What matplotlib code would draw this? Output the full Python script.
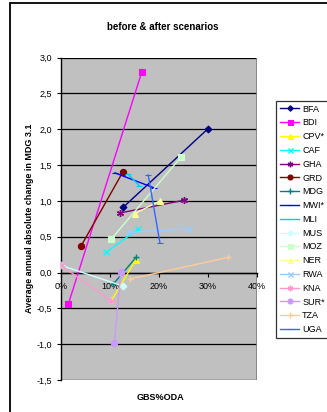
import matplotlib
matplotlib.use("Agg")
import matplotlib.pyplot as plt
from matplotlib.patches import Rectangle
from matplotlib.ticker import FuncFormatter, MultipleLocator

plt.rcParams['font.family'] = ['Liberation Sans', 'DejaVu Sans']

countries = ["BFA", "BDI", "CPV*", "CAF", "GHA", "GRD", "MDG", "MWI*", "MLI",
             "MUS", "MOZ", "NER", "RWA", "KNA", "SUR*", "TZA", "UGA"]
# before / after: x = GBS%ODA, y = change in MDG 3.1
x_before = [0.127, 0.015, 0.103, 0.092, 0.120, 0.041, 0.107, 0.110, 0.137,
            0.000, 0.103, 0.150, 0.139, 0.000, 0.109, 0.141, 0.178]
y_before = [0.91, -0.44, -0.39, 0.28, 0.83, 0.37, -0.16, 1.39, 1.37,
            0.10, 0.47, 0.82, 0.56, 0.10, -0.99, -0.09, 1.36]
x_after = [0.299, 0.165, 0.153, 0.158, 0.252, 0.126, 0.153, 0.190, 0.160,
           0.127, 0.245, 0.202, 0.262, 0.103, 0.122, 0.340, 0.202]
y_after = [2.00, 2.80, 0.18, 0.61, 1.01, 1.40, 0.21, 1.18, 1.21,
           -0.19, 1.61, 1.00, 0.61, -0.40, 0.01, 0.21, 0.41]

colors = ["#000080", "#FF00FF", "#FFFF00", "#00FFFF", "#800080", "#800000",
          "#008080", "#0000FF", "#00CCFF", "#CCFFFF", "#CCFFCC", "#FFFF99",
          "#99CCFF", "#FF99CC", "#CC99FF", "#FFCC99", "#3366FF"]
markers = ["D", "s", "^", "x", (6, 2, 0), "o", "+", "_", "_",
           "D", "s", "^", "x", (6, 2, 0), "o", "+", "_"]
msizes = [3.5, 4.5, 4.5, 4.5, 5, 4.5, 5, 4, 4, 3.5, 4.5, 4.5, 4.5, 5, 4.5, 5, 4]

W, H = 327, 412
fig = plt.figure(figsize=(W / 100, H / 100), dpi=100)
fig.patch.set_facecolor("white")

# Outer chart border (left and top visible)
fig.patches.append(Rectangle((10 / W, -0.2), 1.5, 1.2 - 3 / H,
                             transform=fig.transFigure, fill=False,
                             edgecolor="black", linewidth=1.3))

ax = fig.add_axes([61 / W, 1 - 380 / H, (257 - 61) / W, (380 - 57.5) / H])
ax.set_facecolor("#C0C0C0")
ax.set_xlim(0, 0.4)
ax.set_ylim(-1.5, 3.0)

ax.yaxis.set_major_locator(MultipleLocator(0.5))
ax.xaxis.set_major_locator(MultipleLocator(0.1))
ax.grid(axis="y", color="black", linewidth=0.9)
ax.set_axisbelow(True)

lines = []
for i, c in enumerate(countries):
    mew = 1.0 if markers[i] in ("x", "+", (6, 2, 0)) else 0.8
    ln, = ax.plot([x_before[i], x_after[i]], [y_before[i], y_after[i]],
                  color=colors[i], linewidth=1.0, marker=markers[i],
                  markersize=msizes[i], markerfacecolor=colors[i],
                  markeredgecolor=colors[i], markeredgewidth=mew, label=c,
                  zorder=3)
    lines.append(ln)

for s in ["top", "right"]:
    ax.spines[s].set_visible(False)
ax.spines["bottom"].set_position(("data", 0))
ax.spines["bottom"].set_color("black")
ax.spines["bottom"].set_linewidth(1.0)
ax.spines["left"].set_linewidth(1.0)

# right edge of plot area
ax.axvline(0.4, color="#808080", linewidth=1.2, zorder=1)

ax.yaxis.set_major_formatter(FuncFormatter(lambda v, p: f"{v:.1f}".replace(".", ",")))
ax.xaxis.set_major_formatter(FuncFormatter(lambda v, p: f"{v*100:.0f}%"))
ax.tick_params(axis="both", labelsize=6.5, length=3, width=0.8, direction="out")
ax.tick_params(axis="x", pad=4)

fig.text(163 / W, 1 - 27 / H, "before & after scenarios", ha="center", va="center",
         fontsize=7, fontweight="bold")
fig.text(160 / W, 1 - 397 / H, "GBS%ODA", ha="center", va="center",
         fontsize=6.5, fontweight="bold")
fig.text(30 / W, 1 - 218 / H, "Average annual absolute change in MDG 3.1",
         ha="center", va="center", rotation=90, fontsize=6.5, fontweight="bold")

leg = fig.legend(handles=lines, loc="upper left",
                 bbox_to_anchor=(276 / W, 1 - 101 / H), bbox_transform=fig.transFigure,
                 fontsize=6.5, frameon=True, fancybox=False, borderpad=0.4,
                 labelspacing=0.53, handlelength=2.2, handletextpad=0.3,
                 borderaxespad=0, markerscale=0.8)
leg.get_frame().set_edgecolor("black")
leg.get_frame().set_linewidth(0.9)

fig.savefig("out.png", dpi=100)
